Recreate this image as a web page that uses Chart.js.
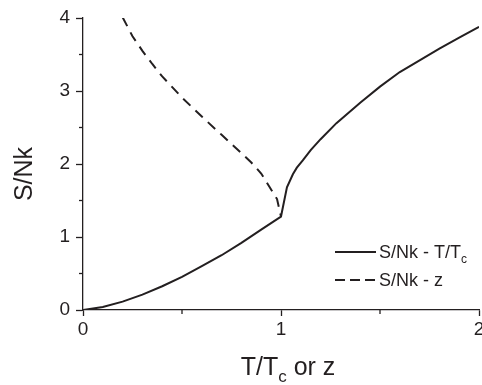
<!DOCTYPE html>
<html>
<head>
<meta charset="utf-8">
<script src="https://cdn.jsdelivr.net/npm/chart.js@4/dist/chart.umd.min.js"></script>
<style>
  html, body { margin: 0; padding: 0; background: #fff; }
  #wrap { width: 482px; height: 385px; }
</style>
</head>
<body>
<div id="wrap"><canvas id="grafico" width="482" height="385"></canvas></div>
<script>
// Eixos
const xTicks = [0, 1, 2];
const yTicks = [0, 1, 2, 3, 4];
const xMinor = [0.5, 1.5];
const yMinor = [0.5, 1.5, 2.5, 3.5];

// S/Nk em funcao de T/Tc (linha cheia)
const tRazao = [0, 0.1, 0.2, 0.3, 0.4, 0.5, 0.6, 0.7, 0.8, 0.9, 1.0,
  1.03, 1.06, 1.08, 1.11, 1.15, 1.2, 1.28, 1.4, 1.5, 1.6, 1.7, 1.8, 1.9, 2.0];
const entropiaT = [0, 0.04, 0.115, 0.21, 0.325, 0.455, 0.6, 0.75, 0.92, 1.1, 1.28,
  1.68, 1.86, 1.95, 2.05, 2.19, 2.34, 2.56, 2.84, 3.06, 3.26, 3.42, 3.58, 3.73, 3.88];

// S/Nk em funcao de z (tracejada)
const zFug = [0.2, 0.25, 0.3, 0.35, 0.4, 0.5, 0.6, 0.7, 0.8, 0.85, 0.9, 0.95, 0.98, 1.0];
const entropiaZ = [4.01, 3.75, 3.55, 3.37, 3.2, 2.91, 2.65, 2.4, 2.15, 2.02, 1.87, 1.65, 1.52, 1.28];

const corLinha = '#231f20';
const fonte = '"Liberation Sans", Arial, sans-serif';

function pontos(xs, ys) {
  return xs.map((x, i) => ({ x: x, y: ys[i] }));
}

// Desenha texto com subscrito
function textoSub(ctx, partes, x, y, tam) {
  let cx = x;
  partes.forEach(p => {
    const t = p.sub ? Math.round(tam * 0.68) : tam;
    ctx.font = t + 'px ' + fonte;
    ctx.fillText(p.t, cx, p.sub ? y + tam * 0.28 : y);
    cx += ctx.measureText(p.t).width;
  });
}

function larguraSub(ctx, partes, tam) {
  let w = 0;
  partes.forEach(p => {
    const t = p.sub ? Math.round(tam * 0.68) : tam;
    ctx.font = t + 'px ' + fonte;
    w += ctx.measureText(p.t).width;
  });
  return w;
}

// Plugin: tiques menores, titulos dos eixos e legenda
const extras = {
  id: 'extras',
  afterDraw(chart) {
    const ctx = chart.ctx;
    const xs = chart.scales.x, ys = chart.scales.y;
    const area = chart.chartArea;
    ctx.save();
    ctx.strokeStyle = corLinha;
    ctx.lineWidth = 1.3;
    xMinor.forEach(v => {
      const px = xs.getPixelForValue(v);
      ctx.beginPath(); ctx.moveTo(px, area.bottom); ctx.lineTo(px, area.bottom + 4); ctx.stroke();
    });
    yMinor.forEach(v => {
      const py = ys.getPixelForValue(v);
      ctx.beginPath(); ctx.moveTo(area.left - 4, py); ctx.lineTo(area.left, py); ctx.stroke();
    });

    ctx.fillStyle = corLinha;
    ctx.textBaseline = 'alphabetic';
    ctx.textAlign = 'left';

    // titulo eixo x
    const tx = [{ t: 'T/T' }, { t: 'c', sub: true }, { t: ' or z' }];
    const wx = larguraSub(ctx, tx, 25);
    textoSub(ctx, tx, 288 - wx / 2, 375, 25);

    // titulo eixo y
    ctx.save();
    ctx.translate(32, 174);
    ctx.rotate(-Math.PI / 2);
    ctx.font = '25px ' + fonte;
    ctx.textAlign = 'center';
    ctx.fillText('S/Nk', 0, 0);
    ctx.restore();

    // legenda
    ctx.lineWidth = 2;
    ctx.beginPath(); ctx.moveTo(335, 252); ctx.lineTo(376, 252); ctx.stroke();
    ctx.setLineDash([10, 5]);
    ctx.beginPath(); ctx.moveTo(335, 280); ctx.lineTo(376, 280); ctx.stroke();
    ctx.setLineDash([]);
    textoSub(ctx, [{ t: 'S/Nk - T/T' }, { t: 'c', sub: true }], 379, 258, 18);
    textoSub(ctx, [{ t: 'S/Nk - z' }], 379, 286, 18);
    ctx.restore();
  }
};

new Chart(document.getElementById('grafico'), {
  type: 'line',
  data: {
    datasets: [
      {
        label: 'S/Nk - T/Tc',
        data: pontos(tRazao, entropiaT),
        borderColor: corLinha,
        borderWidth: 2,
        pointRadius: 0,
        tension: 0,
        fill: false
      },
      {
        label: 'S/Nk - z',
        data: pontos(zFug, entropiaZ),
        borderColor: corLinha,
        borderWidth: 2,
        borderDash: [10, 7],
        pointRadius: 0,
        tension: 0,
        fill: false
      }
    ]
  },
  options: {
    responsive: false,
    animation: false,
    layout: { padding: { top: 18, right: 3, left: 0, bottom: 0 } },
    plugins: {
      legend: { display: false },
      tooltip: { enabled: false }
    },
    scales: {
      x: {
        type: 'linear',
        min: 0,
        max: 2,
        afterBuildTicks(s) { s.ticks = xTicks.map(v => ({ value: v })); },
        afterFit(s) { s.height = 75; s.paddingRight = 0; s.paddingLeft = 0; },
        ticks: { font: { family: fonte, size: 19 }, color: corLinha, padding: 2, maxRotation: 0 },
        grid: { drawOnChartArea: false, tickLength: 6, tickColor: corLinha, tickWidth: 1.3 },
        border: { color: corLinha, width: 1.3 }
      },
      y: {
        type: 'linear',
        min: 0,
        max: 4,
        afterBuildTicks(s) { s.ticks = yTicks.map(v => ({ value: v })); },
        afterFit(s) { s.width = 83; },
        ticks: { font: { family: fonte, size: 19 }, color: corLinha, padding: 6 },
        grid: { drawOnChartArea: false, tickLength: 7, tickColor: corLinha, tickWidth: 1.3 },
        border: { color: corLinha, width: 1.3 }
      }
    }
  },
  plugins: [extras]
});
</script>
</body>
</html>
